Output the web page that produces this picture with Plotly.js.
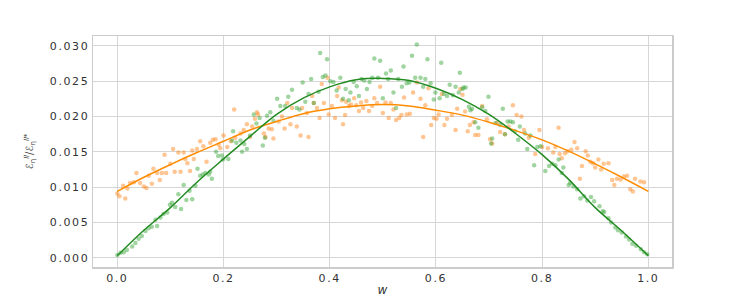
<!DOCTYPE html>
<html>
<head>
<meta charset="utf-8">
<script src="https://cdn.plot.ly/plotly-3.0.1.min.js"></script>
<style>
html,body{margin:0;padding:0;background:#fff;}
.xtick text, .ytick text{letter-spacing:1.6px;}
</style>
</head>
<body>
<div id="chart" style="width:747px;height:300px;"></div>
<script>
// fitted curves
const curveW = [0,0.05,0.1,0.15,0.2,0.25,0.3,0.35,0.4,0.45,0.5,0.55,0.6,0.65,0.7,0.75,0.8,0.85,0.9,0.95,1.0];
const greenCurve = [0.0003,0.0039,0.0071,0.0107,0.0140,0.0172,0.0203,0.0226,0.0242,0.0252,0.0254,0.0251,0.0240,0.0224,0.0203,0.0176,0.0146,0.0111,0.0071,0.0038,0.0003];
const orangeCurve = [0.0094,0.0114,0.0132,0.0149,0.0165,0.0181,0.0193,0.0204,0.0211,0.0215,0.0217,0.0215,0.0209,0.0202,0.0192,0.0180,0.0167,0.0151,0.0133,0.0114,0.0094];

// green samples
const greenW = [0.000,0.006,0.012,0.018,0.028,0.034,0.040,0.046,0.053,0.059,0.065,0.072,0.075,0.081,0.087,0.094,0.099,0.103,0.109,0.115,0.120,0.125,0.130,0.136,0.141,0.147,0.151,0.156,0.161,0.166,0.172,0.175,0.178,0.186,0.190,0.197,0.199,0.209,0.216,0.218,0.224,0.232,0.235,0.239,0.244,0.250,0.257,0.262,0.268,0.274,0.278,0.282,0.288,0.294,0.301,0.307,0.316,0.322,0.329,0.338,0.343,0.349,0.354,0.360,0.365,0.370,0.379,0.382,0.387,0.392,0.395,0.401,0.407,0.413,0.420,0.425,0.430,0.436,0.439,0.445,0.451,0.455,0.460,0.465,0.470,0.475,0.480,0.484,0.491,0.495,0.500,0.506,0.510,0.515,0.520,0.525,0.529,0.536,0.539,0.545,0.550,0.555,0.561,0.564,0.571,0.576,0.580,0.584,0.590,0.596,0.599,0.607,0.610,0.615,0.621,0.626,0.632,0.637,0.643,0.645,0.650,0.652,0.656,0.662,0.665,0.668,0.674,0.680,0.687,0.693,0.699,0.704,0.706,0.712,0.721,0.726,0.730,0.735,0.740,0.745,0.749,0.755,0.758,0.768,0.772,0.778,0.785,0.791,0.797,0.806,0.813,0.819,0.825,0.831,0.837,0.840,0.850,0.853,0.859,0.866,0.872,0.879,0.885,0.892,0.898,0.908,0.914,0.917,0.925,0.930,0.938,0.943,0.950,0.958,0.964,0.970,0.977,0.986,0.992,0.998];
const greenV = [0.0004,0.0007,0.0008,0.0011,0.0016,0.0021,0.0027,0.0031,0.0038,0.0042,0.0044,0.0054,0.0045,0.0057,0.0062,0.0064,0.0075,0.0078,0.0072,0.0090,0.0069,0.0103,0.0082,0.0095,0.0083,0.0102,0.0126,0.0116,0.0118,0.0120,0.0118,0.0122,0.0112,0.0150,0.0144,0.0145,0.0139,0.0140,0.0166,0.0179,0.0163,0.0166,0.0150,0.0161,0.0154,0.0173,0.0203,0.0190,0.0198,0.0159,0.0170,0.0201,0.0206,0.0194,0.0225,0.0215,0.0215,0.0228,0.0238,0.0212,0.0210,0.0248,0.0221,0.0232,0.0253,0.0219,0.0235,0.0290,0.0256,0.0258,0.0281,0.0250,0.0249,0.0237,0.0255,0.0225,0.0239,0.0223,0.0234,0.0249,0.0243,0.0229,0.0253,0.0251,0.0239,0.0249,0.0255,0.0282,0.0255,0.0279,0.0226,0.0261,0.0253,0.0265,0.0234,0.0212,0.0253,0.0242,0.0271,0.0247,0.0248,0.0286,0.0255,0.0302,0.0255,0.0242,0.0253,0.0281,0.0247,0.0224,0.0234,0.0226,0.0276,0.0232,0.0229,0.0245,0.0230,0.0242,0.0234,0.0262,0.0239,0.0241,0.0241,0.0214,0.0209,0.0211,0.0192,0.0184,0.0213,0.0208,0.0228,0.0162,0.0169,0.0191,0.0188,0.0211,0.0175,0.0193,0.0193,0.0192,0.0179,0.0167,0.0186,0.0176,0.0154,0.0173,0.0131,0.0157,0.0158,0.0123,0.0130,0.0133,0.0131,0.0139,0.0120,0.0128,0.0103,0.0106,0.0101,0.0097,0.0084,0.0087,0.0081,0.0086,0.0080,0.0073,0.0066,0.0065,0.0056,0.0050,0.0043,0.0039,0.0036,0.0030,0.0026,0.0020,0.0017,0.0012,0.0008,0.0005];

// orange samples
const orangeW = [0.000,0.004,0.011,0.015,0.019,0.024,0.031,0.036,0.043,0.050,0.055,0.059,0.065,0.068,0.075,0.080,0.084,0.089,0.092,0.100,0.105,0.108,0.115,0.119,0.125,0.128,0.132,0.137,0.141,0.144,0.150,0.156,0.162,0.168,0.175,0.180,0.185,0.191,0.194,0.200,0.207,0.214,0.220,0.222,0.232,0.238,0.244,0.250,0.254,0.259,0.263,0.265,0.276,0.279,0.285,0.291,0.294,0.304,0.310,0.315,0.320,0.326,0.329,0.338,0.345,0.348,0.357,0.360,0.367,0.370,0.376,0.381,0.385,0.389,0.396,0.398,0.404,0.410,0.414,0.417,0.423,0.425,0.429,0.431,0.436,0.440,0.446,0.450,0.455,0.459,0.463,0.469,0.474,0.480,0.484,0.489,0.495,0.500,0.505,0.511,0.515,0.520,0.525,0.531,0.535,0.540,0.545,0.551,0.557,0.564,0.571,0.576,0.580,0.586,0.591,0.596,0.601,0.605,0.611,0.616,0.621,0.630,0.637,0.640,0.646,0.650,0.655,0.660,0.664,0.671,0.674,0.680,0.687,0.696,0.702,0.706,0.715,0.721,0.730,0.737,0.745,0.752,0.761,0.766,0.775,0.787,0.795,0.800,0.811,0.821,0.825,0.831,0.833,0.837,0.843,0.848,0.855,0.861,0.866,0.871,0.875,0.882,0.886,0.891,0.896,0.900,0.906,0.911,0.916,0.925,0.932,0.936,0.941,0.948,0.954,0.960,0.966,0.971,0.975,0.985,0.992];
const orangeV = [0.0091,0.0087,0.0102,0.0084,0.0098,0.0106,0.0107,0.0120,0.0106,0.0101,0.0099,0.0116,0.0105,0.0126,0.0120,0.0110,0.0120,0.0146,0.0120,0.0133,0.0154,0.0122,0.0149,0.0122,0.0149,0.0140,0.0134,0.0123,0.0152,0.0140,0.0154,0.0165,0.0158,0.0136,0.0163,0.0167,0.0168,0.0160,0.0155,0.0173,0.0157,0.0165,0.0210,0.0170,0.0176,0.0181,0.0189,0.0171,0.0186,0.0197,0.0206,0.0203,0.0176,0.0171,0.0183,0.0182,0.0169,0.0193,0.0200,0.0183,0.0219,0.0189,0.0212,0.0186,0.0173,0.0212,0.0205,0.0171,0.0229,0.0219,0.0212,0.0198,0.0246,0.0219,0.0255,0.0203,0.0215,0.0198,0.0229,0.0241,0.0223,0.0189,0.0202,0.0221,0.0215,0.0217,0.0226,0.0216,0.0208,0.0220,0.0212,0.0222,0.0208,0.0215,0.0226,0.0219,0.0242,0.0205,0.0220,0.0198,0.0219,0.0210,0.0195,0.0198,0.0202,0.0227,0.0203,0.0204,0.0234,0.0248,0.0225,0.0171,0.0216,0.0240,0.0188,0.0198,0.0197,0.0203,0.0232,0.0188,0.0197,0.0202,0.0181,0.0211,0.0239,0.0231,0.0207,0.0179,0.0188,0.0192,0.0174,0.0174,0.0215,0.0196,0.0168,0.0162,0.0191,0.0178,0.0175,0.0186,0.0216,0.0202,0.0200,0.0181,0.0170,0.0147,0.0181,0.0157,0.0155,0.0149,0.0157,0.0184,0.0147,0.0141,0.0148,0.0151,0.0153,0.0164,0.0155,0.0112,0.0130,0.0151,0.0145,0.0136,0.0134,0.0128,0.0139,0.0125,0.0133,0.0134,0.0110,0.0103,0.0112,0.0111,0.0115,0.0116,0.0097,0.0094,0.0112,0.0108,0.0107];

const xTickVals = [0,0.2,0.4,0.6,0.8,1.0];
const xTickText = ['0.0','0.2','0.4','0.6','0.8','1.0'];
const yTickVals = [0,0.005,0.01,0.015,0.02,0.025,0.03];
const yTickText = ['0.000','0.005','0.010','0.015','0.020','0.025','0.030'];

const traces = [
  {x: orangeW, y: orangeV, type:'scatter', mode:'markers', marker:{color:'rgba(255,127,14,0.45)', size:4.5}, hoverinfo:'skip'},
  {x: greenW, y: greenV, type:'scatter', mode:'markers', marker:{color:'rgba(44,160,44,0.45)', size:4.5}, hoverinfo:'skip'},
  {x: curveW, y: orangeCurve, type:'scatter', mode:'lines', line:{color:'#ff8c00', width:1.5, shape:'spline'}},
  {x: curveW, y: greenCurve, type:'scatter', mode:'lines', line:{color:'#228b22', width:1.5, shape:'spline'}}
];

const layout = {
  width:747, height:300,
  margin:{l:93, r:75, t:36, b:33},
  paper_bgcolor:'#fff', plot_bgcolor:'#fff',
  showlegend:false,
  font:{family:'DejaVu Sans', size:11, color:'#333'},
  xaxis:{
    range:[-0.0458,1.0446], tickvals:xTickVals, ticktext:xTickText,
    showgrid:true, gridcolor:'#d6d6d6', gridwidth:1, zeroline:false,
    showline:true, mirror:true, linecolor:'#cccccc', linewidth:1.5,
    ticks:'', ticklen:0,
    tickfont:{family:'DejaVu Sans', size:11, color:'#333'},
    title:{text:'<i>w</i>', font:{family:'DejaVu Sans', size:12, color:'#333'}, standoff:2}
  },
  yaxis:{
    range:[-0.0013,0.0314], tickvals:yTickVals, ticktext:yTickText,
    showgrid:true, gridcolor:'#d6d6d6', gridwidth:1, zeroline:false,
    showline:true, mirror:true, linecolor:'#cccccc', linewidth:1.5,
    ticks:'', ticklen:0,
    tickfont:{family:'DejaVu Sans', size:11, color:'#333'},
    title:{text:'ℰ<sub>η</sub><sup><i>ll</i></sup>/ℰ<sub>η</sub><sup><i>ll</i>*</sup>', font:{family:'DejaVu Sans', size:10, color:'#333'}, standoff:14}
  }
};

Plotly.newPlot('chart', traces, layout, {displayModeBar:false, staticPlot:true});
</script>
</body>
</html>
